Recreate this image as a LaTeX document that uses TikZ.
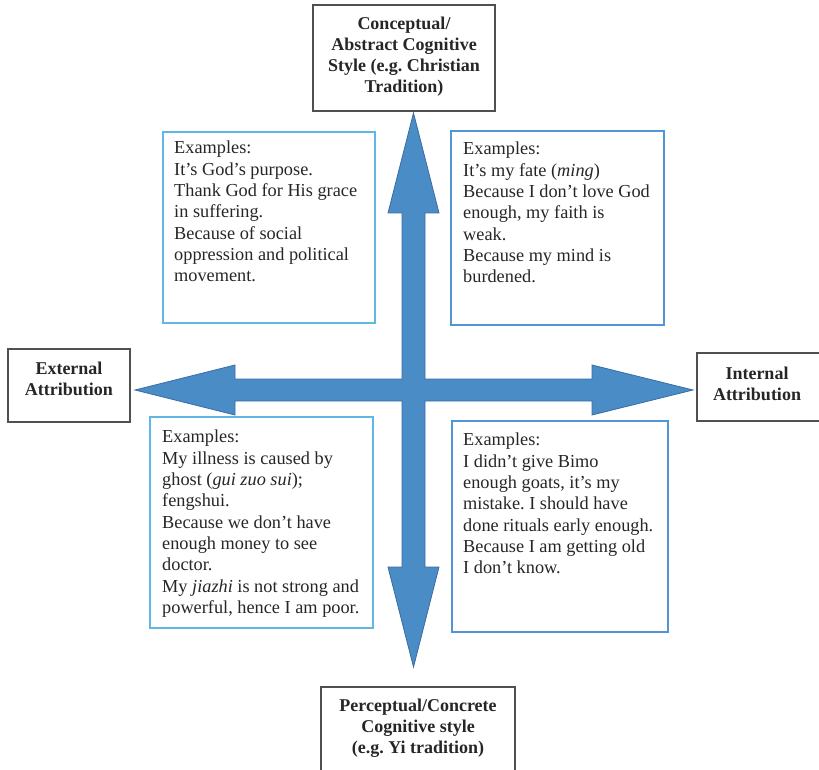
\documentclass[tikz,border=0pt]{standalone}
\usepackage{fontspec}
\setmainfont{Liberation Serif}
\frenchspacing
\definecolor{arrowfill}{RGB}{74,140,198}
\definecolor{arrowedge}{RGB}{58,108,162}
\definecolor{titlegray}{RGB}{80,80,80}
\definecolor{leftblue}{RGB}{96,182,230}
\definecolor{rightblue}{RGB}{80,150,212}
\begin{document}
\begin{tikzpicture}[x=1pt,y=-1pt,
  titlebox/.style={draw=titlegray,line width=1.3pt},
  exbox/.style={line width=1.5pt},
  titletext/.style={font=\fontsize{18}{21}\selectfont\bfseries,align=center,inner sep=0pt,text=black!85},
  extext/.style={font=\fontsize{18.3}{21.3}\selectfont,align=left,inner sep=0pt,anchor=north west,text=black!85},
]
\useasboundingbox (0,0) rectangle (819,770);
\clip (0,0) rectangle (819,770);

% four-way arrow
\filldraw[fill=arrowfill,draw=arrowedge,line width=0.8pt,line join=miter]
  (413.5,113) -- (439,213) -- (425,213) -- (425,379) -- (592,379) -- (592,365)
  -- (693,390) -- (592,415) -- (592,401) -- (425,401) -- (425,567) -- (439,567)
  -- (413.5,667) -- (388,567) -- (402,567) -- (402,401) -- (235,401) -- (235,415)
  -- (135,390) -- (235,365) -- (235,379) -- (402,379) -- (402,213) -- (388,213) -- cycle;

% pole boxes
\draw[titlebox] (313,5) rectangle (495,111);
\node[titletext] (top) at (404,56.5) {Conceptual/\\Abstract Cognitive\\Style (e.g. Christian\\Tradition)};

\draw[titlebox] (321,687) rectangle (515,780);
\node[titletext] (bottom) at (418,728) {Perceptual/Concrete\\Cognitive style\\(e.g. Yi tradition)};

\draw[titlebox] (8,349) rectangle (130,422);
\node[titletext] (ext) at (69,378.5) {External\\Attribution};

\draw[titlebox] (697,353) rectangle (830,421);
\node[titletext] (int) at (757,383.5) {Internal\\Attribution};

% example boxes
\draw[exbox,draw=leftblue] (163,132) rectangle (375,323);
\node[extext] (ul) at (174,141) {Examples:\\It’s God’s purpose.\\Thank God for His grace\\in suffering.\\Because of social\\oppression and political\\movement.};

\draw[exbox,draw=rightblue] (451,131) rectangle (664,325);
\node[extext] (ur) at (463,142) {Examples:\\It’s my fate (\textit{ming})\\Because I don’t love God\\enough, my faith is\\weak.\\Because my mind is\\burdened.};

\draw[exbox,draw=leftblue] (150,417) rectangle (373,628);
\node[extext] (ll) at (162,430) {Examples:\\My illness is caused by\\ghost (\textit{gui zuo sui});\\fengshui.\\Because we don’t have\\enough money to see\\doctor.\\My \textit{jiazhi} is not strong and\\powerful, hence I am poor.};

\draw[exbox,draw=rightblue] (452,421) rectangle (668,632);
\node[extext] (lr) at (463,433) {Examples:\\I didn’t give Bimo\\enough goats, it’s my\\mistake. I should have\\done rituals early enough.\\Because I am getting old\\I don’t know.};
\end{tikzpicture}
\end{document}
